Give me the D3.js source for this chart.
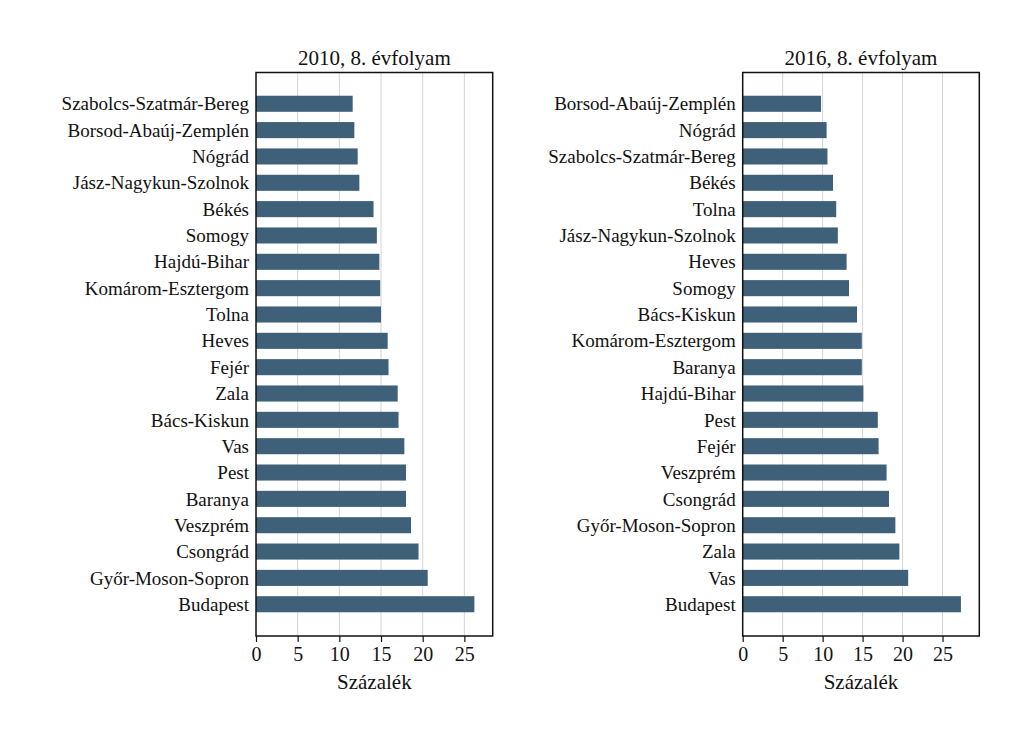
<!DOCTYPE html>
<html><head><meta charset="utf-8">
<script src="https://d3js.org/d3.v7.min.js"></script>
<style>body{margin:0;background:#fff}svg{display:block}text{font-family:"Liberation Serif","Times New Roman",serif;fill:#111}</style>
</head><body><svg id="c" width="1024" height="750"></svg>
<script>
const cats2010 = ["Szabolcs-Szatmár-Bereg","Borsod-Abaúj-Zemplén","Nógrád","Jász-Nagykun-Szolnok","Békés","Somogy","Hajdú-Bihar","Komárom-Esztergom","Tolna","Heves","Fejér","Zala","Bács-Kiskun","Vas","Pest","Baranya","Veszprém","Csongrád","Győr-Moson-Sopron","Budapest"];
const vals2010 = [11.6,11.8,12.2,12.4,14.1,14.5,14.8,14.9,15.0,15.8,15.9,17.0,17.1,17.8,18.0,18.0,18.6,19.5,20.6,26.2];
const cats2016 = ["Borsod-Abaúj-Zemplén","Nógrád","Szabolcs-Szatmár-Bereg","Békés","Tolna","Jász-Nagykun-Szolnok","Heves","Somogy","Bács-Kiskun","Komárom-Esztergom","Baranya","Hajdú-Bihar","Pest","Fejér","Veszprém","Csongrád","Győr-Moson-Sopron","Zala","Vas","Budapest"];
const vals2016 = [9.8,10.5,10.6,11.3,11.7,11.9,13.0,13.3,14.3,14.9,14.9,15.1,16.9,17.0,18.0,18.3,19.1,19.6,20.7,27.3];
const xTicks = [0,5,10,15,20,25];
const titles = ["2010, 8. évfolyam","2016, 8. évfolyam"];
const xTitle = "Százalék";

(function(){
const svg = d3.select("#c");
const panels = [
  {cats:cats2010, vals:vals2010, title:titles[0], x0:256, x1:492.7, max:28.4},
  {cats:cats2016, vals:vals2016, title:titles[1], x0:742.7, x1:979.3, max:29.6}
];
const yTop = 72.5, yBot = 636;
panels.forEach(p => {
  const g = svg.append("g");
  const x = d3.scaleLinear().domain([0, p.max]).range([p.x0, p.x1]);
  const y = d3.scaleBand().domain(p.cats).range([90.6, 617.4]).paddingInner(0.39).paddingOuter(0.195);
  g.selectAll("line.grid").data(xTicks.slice(1)).join("line")
    .attr("x1", d => x(d)).attr("x2", d => x(d)).attr("y1", yTop).attr("y2", yBot)
    .attr("stroke", "#d4d4d4").attr("stroke-width", 1);
  g.selectAll("rect.bar").data(p.cats).join("rect")
    .attr("x", x(0)).attr("y", d => y(d))
    .attr("width", (d,i) => x(p.vals[i]) - x(0)).attr("height", y.bandwidth())
    .attr("fill", "#3e6079");
  g.append("rect").attr("x", p.x0).attr("y", yTop).attr("width", p.x1 - p.x0).attr("height", yBot - yTop)
    .attr("fill", "none").attr("stroke", "#111").attr("stroke-width", 1.5);
  const ax = g.append("g").attr("transform", `translate(0,${yBot})`)
    .call(d3.axisBottom(x).tickValues(xTicks).tickSize(6).tickPadding(5).tickSizeOuter(0));
  ax.select(".domain").remove();
  ax.selectAll(".tick line").attr("stroke", "#111").attr("stroke-width", 1.2);
  ax.selectAll(".tick text").attr("font-size", 20).attr("font-family", "Liberation Serif").attr("fill", "#111");
  g.selectAll("text.cat").data(p.cats).join("text")
    .attr("x", p.x0 - 7).attr("y", d => y(d) + y.bandwidth()/2).attr("dy", "0.35em")
    .attr("text-anchor", "end").attr("font-size", 19).text(d => d);
  g.append("text").attr("x", (p.x0 + p.x1)/2).attr("y", 65).attr("text-anchor", "middle")
    .attr("font-size", 21).text(p.title);
  g.append("text").attr("x", (p.x0 + p.x1)/2).attr("y", 689).attr("text-anchor", "middle")
    .attr("font-size", 21).text(xTitle);
});
})();
</script></body></html>
